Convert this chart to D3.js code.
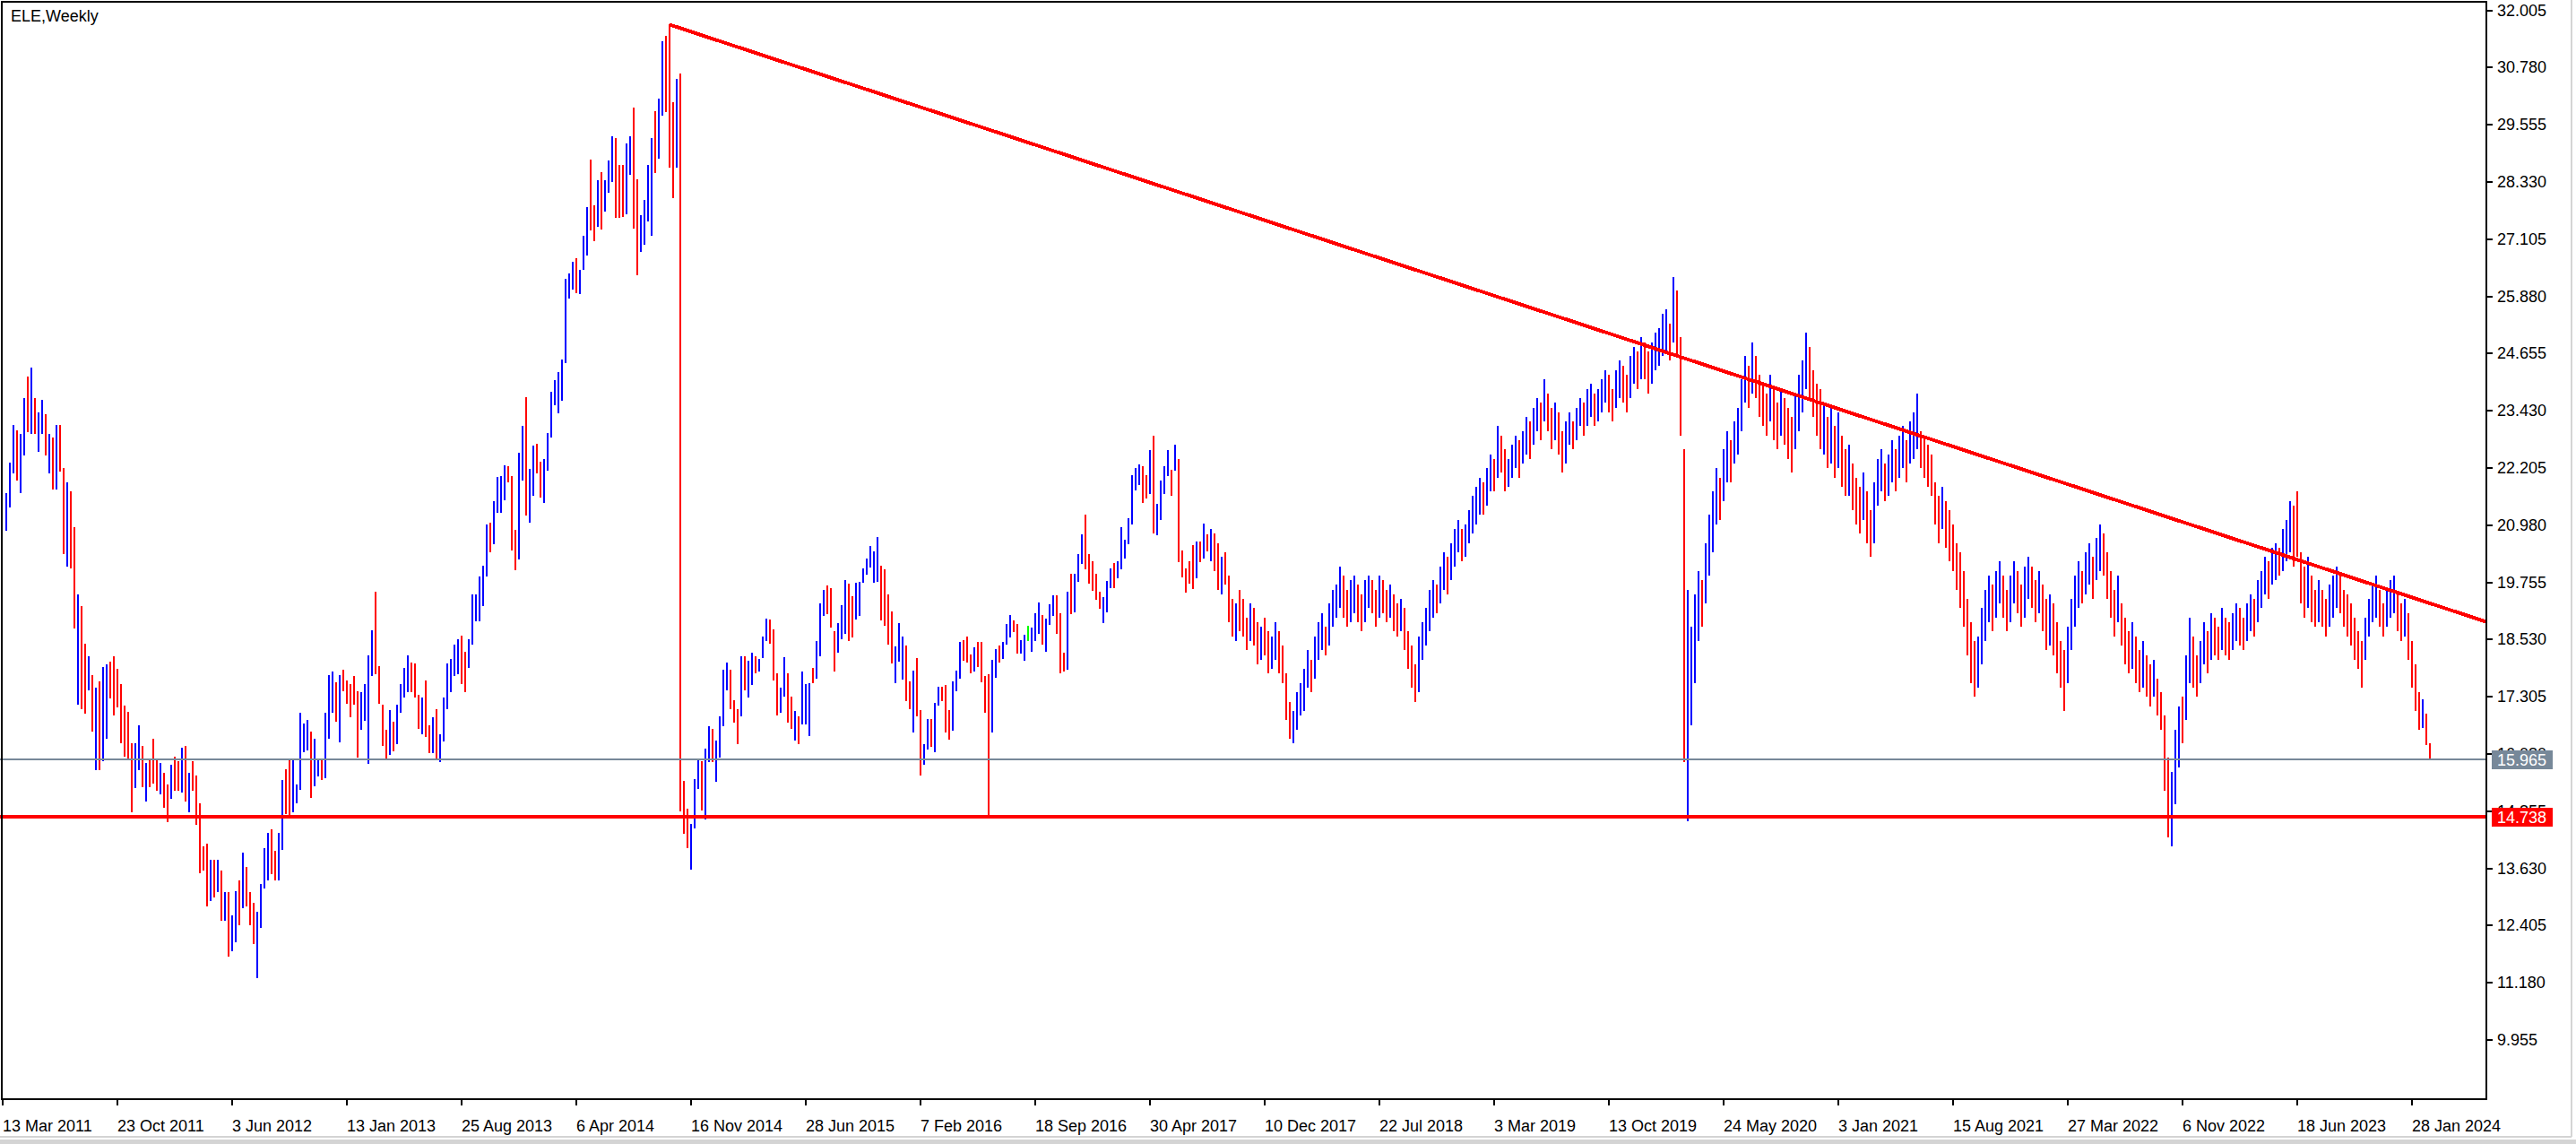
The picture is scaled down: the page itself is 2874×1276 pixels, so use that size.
<!DOCTYPE html>
<html>
<head>
<meta charset="utf-8">
<title>ELE,Weekly</title>
<style>
  body { margin: 0; background: #fff; }
  svg { display: block; }
  text { font-family: "Liberation Sans", Arial, sans-serif; font-size: 18px; fill: #000; }
</style>
</head>
<body>
<div id="chart"></div>
<script src="https://d3js.org/d3.v7.min.js"></script>
<script>
var symbol = "ELE,Weekly";
var firstWeek = "2011-03-20";   // date of the first bar in the arrays

// weekly highs / lows
var barHigh = [
 21.67,22.32,23.13,23.01,22.94,23.71,24.17,24.36,23.71,23.40,23.66,23.35,22.94,22.86,23.13,23.13,22.20,21.90,21.71,20.94,
 19.49,19.25,18.45,18.17,17.76,17.49,17.64,17.95,17.99,18.06,18.17,17.91,17.57,17.11,16.99,16.30,16.30,16.69,16.26,15.88,
 15.99,16.41,15.96,15.88,15.68,15.42,15.84,16.03,15.92,16.22,16.26,15.68,15.92,15.61,15.03,14.11,14.15,13.81,13.81,13.81,
 13.58,13.12,13.12,12.62,13.15,13.38,13.96,13.65,13.12,12.89,12.70,13.30,14.07,14.38,14.46,14.00,14.38,15.53,15.76,15.99,
 15.99,15.42,16.96,16.73,16.81,16.55,16.40,15.98,15.98,16.97,17.77,17.85,17.62,17.77,17.89,17.65,17.58,17.74,17.43,17.40,
 17.58,18.19,18.73,19.55,17.97,17.13,16.59,17.01,16.77,17.13,17.58,17.92,18.19,18.04,18.01,17.35,17.28,17.65,16.70,16.86,
 17.04,16.51,17.28,18.01,18.12,18.42,18.54,18.62,18.27,18.54,19.50,19.50,19.89,20.12,21.00,21.04,21.49,22.02,22.04,22.27,
 22.24,22.04,20.88,22.54,23.11,23.72,22.19,22.68,22.73,22.34,22.39,22.95,23.84,24.08,24.26,24.52,26.25,26.37,26.63,26.70,
 26.45,27.17,27.79,28.81,27.83,28.36,28.55,28.36,28.80,29.31,29.28,28.70,28.70,29.16,29.31,29.93,28.39,27.61,27.94,28.70,
 29.28,29.85,30.12,31.35,31.46,31.70,30.03,30.54,30.65,15.51,14.91,14.58,15.54,15.95,15.93,16.19,16.68,16.62,16.37,16.89,
 17.88,18.03,17.88,17.23,17.03,18.18,18.18,18.07,18.25,18.18,18.11,18.60,18.98,18.95,18.74,17.81,17.50,18.16,17.80,17.31,
 17.00,16.89,17.84,17.58,17.60,17.92,18.49,19.30,19.59,19.69,19.64,18.71,18.89,19.27,19.80,19.73,19.45,19.74,19.76,20.06,
 20.26,20.54,20.41,20.72,20.12,20.03,19.50,19.14,18.38,18.89,18.60,18.41,17.63,17.86,18.13,17.02,16.29,16.83,16.83,17.17,
 17.52,17.52,17.56,17.02,17.64,17.86,18.48,18.52,18.60,18.21,18.36,18.48,18.48,17.75,17.79,18.10,18.33,18.40,18.48,18.86,
 19.06,18.94,18.86,18.52,18.63,18.83,18.79,19.09,19.33,19.06,18.98,19.29,19.48,19.48,19.09,18.25,19.56,19.94,19.94,20.36,
 20.78,21.21,20.36,20.21,19.94,19.56,19.44,19.79,20.05,20.17,20.21,20.94,20.67,21.13,22.05,22.21,22.28,22.24,22.05,22.59,
 22.90,21.44,21.94,22.24,22.59,22.17,22.70,22.40,20.44,20.05,20.21,20.55,20.63,20.63,21.01,20.78,
 20.9,20.8,20.6,20.3,20.4,19.9,19.4,19.3,19.6,19.4,
 19.0,19.3,19.2,18.9,18.8,19.0,18.7,18.6,18.9,18.7,
 18.4,17.8,17.2,17.0,17.4,17.6,17.9,18.3,18.1,18.6,
 18.9,19.1,18.8,19.3,19.6,19.7,20.1,19.9,19.6,19.8,
 19.9,19.7,19.5,19.8,19.9,19.8,19.6,19.9,19.8,19.6,
 19.7,19.5,19.3,19.4,19.2,18.7,18.4,18.0,18.6,18.9,
 19.2,19.6,19.8,19.7,20.1,20.4,20.3,20.6,20.9,21.1,
 20.9,21.0,21.3,21.6,21.8,22.0,21.9,22.2,22.5,22.4,
 23.1,22.9,22.6,22.4,22.7,22.9,22.8,23.0,23.3,23.2,
 23.5,23.7,23.6,24.1,23.8,23.5,23.6,23.4,23.0,23.2,
 23.4,23.2,23.5,23.7,23.6,23.9,24.0,23.8,23.9,24.1,
 24.3,24.2,23.9,24.3,24.5,24.4,24.2,24.6,24.8,24.7,
 25.0,24.9,24.7,24.9,25.1,25.2,25.5,25.6,25.3,26.3,
 26.0,25.0,22.6,19.6,18.8,19.5,20.0,19.8,20.6,21.2,
 21.7,22.2,22.0,22.6,23.0,22.8,23.2,23.5,24.1,24.6,
 24.4,24.9,24.6,24.2,24.0,23.8,24.2,23.9,23.6,23.9,
 23.7,23.5,23.3,23.8,24.2,24.5,25.1,24.8,24.3,24.0,
 23.9,23.6,23.3,23.5,23.1,23.4,22.9,22.6,22.7,22.3,
 22.0,21.8,22.1,21.7,21.3,21.9,22.4,22.6,22.3,22.5,
 22.8,22.6,22.9,23.1,22.8,23.2,23.4,23.8,23.0,22.9,
 22.7,22.5,21.9,21.6,21.8,21.5,21.3,21.0,20.6,20.4,
 20.0,19.4,18.9,18.5,18.6,19.2,19.6,19.9,19.7,20.0,
 20.2,19.9,19.6,19.9,20.2,20.0,19.7,20.1,20.3,20.1,
 19.8,20.0,19.7,19.4,19.5,19.3,18.9,18.5,18.3,18.8,
 19.4,19.9,20.2,20.0,20.4,20.6,20.3,20.7,21.0,20.8,
 20.4,20.0,19.6,19.9,19.3,19.0,18.7,18.9,18.6,18.3,
 18.5,18.2,18.0,18.1,17.7,17.4,16.9,16.0,15.7,16.6,
 17.1,17.3,18.2,19.0,18.6,18.2,18.5,18.9,18.7,19.1,
 19.0,18.8,19.2,19.0,18.9,19.1,19.3,19.2,19.0,19.3,
 19.5,19.4,19.8,20.0,20.3,20.2,20.5,20.6,20.5,20.9,
 21.1,21.5,21.4,21.7,20.4,20.1,20.3,19.9,19.6,19.8,
 19.6,19.4,19.7,19.9,20.1,19.9,19.6,19.5,19.3,19.0,
 18.7,18.5,19.0,19.4,19.7,19.9,19.6,19.3,19.6,19.8,
 19.9,19.5,19.3,19.4,19.1,18.5,18.0,17.4,17.25,16.94,16.30
];
var barLow = [
 20.86,21.36,22.09,21.94,21.67,22.47,22.98,22.94,22.94,22.55,22.94,22.47,22.09,21.74,21.74,22.13,20.37,20.10,20.06,18.76,
 17.14,17.03,16.95,17.45,16.56,15.73,15.73,15.92,16.41,17.26,16.91,17.07,16.30,16.03,15.99,14.84,15.34,15.73,15.37,15.07,
 15.37,15.45,15.30,15.22,14.92,14.61,15.11,15.30,15.30,15.26,15.07,14.84,15.30,14.57,13.53,13.58,12.81,12.92,13.00,13.12,
 12.50,12.50,11.74,11.85,12.04,12.42,12.77,12.81,12.42,12.01,11.28,12.35,13.19,13.38,13.50,13.38,13.38,14.03,14.80,14.72,
 14.84,15.03,15.31,16.12,16.16,15.14,15.38,15.60,15.53,15.56,16.41,16.97,16.77,16.32,17.43,17.16,16.87,17.13,16.01,16.59,
 16.78,15.87,17.75,17.78,17.16,16.26,15.97,16.06,16.14,16.29,16.97,17.28,17.40,17.40,17.28,16.62,16.51,16.44,16.09,16.09,
 15.97,15.91,16.35,17.04,17.40,17.74,17.78,17.58,17.40,17.92,18.43,18.92,18.92,19.24,19.89,20.39,20.58,21.24,21.24,21.51,
 21.89,20.43,20.01,20.24,21.93,21.19,21.04,21.61,22.08,21.58,21.46,22.15,22.85,23.54,23.38,23.65,24.45,25.84,26.03,25.95,
 25.92,26.45,26.76,27.29,27.07,27.37,27.32,27.70,28.09,28.33,27.57,27.57,27.59,27.64,28.48,27.33,26.33,26.83,26.99,27.49,
 27.18,28.52,28.82,29.75,29.83,28.63,27.98,28.63,14.85,14.37,14.07,13.61,14.48,15.33,14.86,14.67,15.91,15.91,15.48,16.01,
 16.67,17.45,17.03,16.75,16.29,16.89,17.45,17.28,17.56,17.81,17.84,18.13,18.50,18.44,17.65,16.91,16.97,17.31,16.75,16.61,
 16.37,16.29,16.71,16.71,16.47,17.59,17.70,18.18,19.04,19.08,18.79,17.84,18.24,18.53,18.65,18.50,18.58,18.96,19.04,19.75,
 19.92,20.07,19.74,19.76,18.94,18.83,18.42,18.01,17.59,18.06,17.67,17.21,17.04,16.53,16.88,15.61,15.84,16.18,16.23,16.11,
 17.11,17.22,16.53,16.38,16.57,17.42,17.69,18.07,18.03,17.80,17.84,17.94,17.61,16.96,14.76,16.53,17.72,18.03,18.11,18.42,
 18.57,18.69,18.22,18.22,18.07,18.49,18.26,18.49,18.65,18.42,18.26,18.84,19.03,18.65,17.80,17.84,17.88,19.07,19.11,19.76,
 20.14,20.03,19.72,19.57,19.38,19.18,18.88,19.11,19.64,19.64,19.84,20.03,20.26,20.57,20.99,21.72,21.83,21.45,21.56,21.64,
 20.80,20.76,21.10,21.64,22.03,21.60,22.14,20.18,19.87,19.53,19.72,19.61,19.84,20.18,20.26,20.41,
 20.2,20.0,19.6,19.5,19.7,18.9,18.6,18.5,18.7,18.6,
 18.3,18.5,18.4,18.0,18.1,18.2,17.8,17.9,18.1,17.8,
 17.6,16.8,16.4,16.3,16.6,16.9,17.0,17.5,17.4,17.7,
 18.1,18.3,18.2,18.4,18.8,19.0,19.2,19.0,18.8,18.9,
 19.1,18.9,18.7,18.9,19.2,19.1,18.8,19.0,19.1,18.9,
 19.0,18.7,18.6,18.7,18.3,17.9,17.5,17.2,17.4,18.1,
 18.4,18.7,19.0,19.1,19.3,19.6,19.5,19.8,20.1,20.4,
 20.2,20.3,20.6,20.8,21.0,21.2,21.2,21.4,21.7,21.7,
 22.0,22.1,21.7,21.8,22.0,22.2,22.0,22.3,22.5,22.4,
 22.7,23.0,22.8,23.2,23.0,22.6,22.8,22.5,22.1,22.3,
 22.7,22.6,22.8,23.1,22.9,23.1,23.3,23.1,23.2,23.4,
 23.6,23.4,23.2,23.5,23.7,23.6,23.4,23.7,24.0,23.9,
 24.1,24.1,23.8,24.0,24.3,24.4,24.6,24.7,24.5,24.9,
 24.6,22.9,15.9,14.63,16.7,17.6,18.5,18.8,19.3,19.9,
 20.4,21.0,21.1,21.5,21.9,21.9,22.3,22.5,23.0,23.6,
 23.5,23.8,23.7,23.3,23.1,22.9,23.2,22.8,22.6,22.9,
 22.7,22.4,22.1,22.6,23.0,23.4,23.9,23.7,23.3,22.9,
 22.6,22.5,22.2,22.3,22.0,22.2,21.8,21.6,21.6,21.3,
 21.0,20.8,21.1,20.6,20.3,20.6,21.4,21.7,21.5,21.6,
 21.9,21.7,22.0,22.2,21.9,22.3,22.4,22.6,22.2,22.0,
 21.8,21.6,21.0,20.6,20.9,20.5,20.2,20.0,19.6,19.2,
 18.8,18.2,17.6,17.3,17.5,18.0,18.5,18.9,18.7,19.0,
 19.3,19.0,18.7,18.9,19.3,19.1,18.8,19.0,19.4,19.2,
 18.9,19.1,18.7,18.3,18.4,18.2,17.8,17.5,17.0,17.6,
 18.3,18.8,19.2,19.3,19.5,19.7,19.4,19.8,20.0,19.9,
 19.4,19.0,18.6,18.9,18.4,18.0,17.8,17.9,17.6,17.4,
 17.5,17.3,17.1,17.3,16.9,16.6,15.3,14.3,14.1,15.0,
 15.8,16.3,16.8,17.6,17.5,17.3,17.6,18.0,17.8,18.1,
 18.2,18.1,18.3,18.2,18.1,18.3,18.5,18.4,18.3,18.5,
 18.7,18.6,18.9,19.2,19.5,19.4,19.7,19.8,19.9,20.0,
 20.2,20.4,20.1,20.3,19.3,19.0,19.2,18.9,18.8,18.9,
 18.8,18.6,18.8,19.0,19.2,19.1,18.8,18.6,18.4,18.1,
 17.9,17.5,18.1,18.6,18.9,19.0,18.8,18.6,18.8,19.0,
 19.1,18.7,18.5,18.6,18.1,17.5,17.0,16.6,16.64,16.27,15.97
];
// u = closed up (blue), d = closed down (red), n = unchanged (green)
var barDir = [
 "uuuduududu","udududdudd","uddududuud","dddddduudu","dddudduddu","dudddddudu","duduududdd","uuuudduudd",
 "uuuuuduudu","uududddddu","uuuddddudu","uuuddduddu","duuuuuuddu","uuuuuduuuu","ddduuduudd","uuuuuuuuud",
 "uuudduduuu","ddduudduuu","uduudddudd","duuuduuduu","uuddduduud","uuuddduudd","uduuuduuud","dduuudduuu",
 "uuuudddduu","uddudduudu","uddduuuddd","udddduuduu","udduunuuud","uuuddduduu","uddddduuud","uuuuuuuddu",
 "duuuududdd","ddudud",
 "uddudddudd","duddudduud","ddduuuuudu","uuduuuuddu","udduuddudd","uddudddduu","uuuduuduuu","duuuuuduud",
 "udduuuduud","uududduddu","uduuduuduu","udduudduud","udduuuuudu","ddduuuuduu","uuduuduuuu","dudddduddu",
 "ddduuuuddd","dudududdud","ddudduuudu","uduuduuudd","dddduddddd","dddduuuudu","udduudduud","dudduddddu",
 "uuuduuduud","dddudddudd","uddudddduu","uduudduudu","ddudduuddu","uduuuduudu","uudddduddu","dduuuddddd",
 "dduuuudduu","udduddddudd"
].join("").split("");

var priceTicks = ["32.005","30.780","29.555","28.330","27.105","25.880","24.655","23.430","22.205","20.980",
                  "19.755","18.530","17.305","16.080","14.855","13.630","12.405","11.180","9.955"];
var dateTicks = ["13 Mar 2011","23 Oct 2011","3 Jun 2012","13 Jan 2013","25 Aug 2013","6 Apr 2014","16 Nov 2014",
                 "28 Jun 2015","7 Feb 2016","18 Sep 2016","30 Apr 2017","10 Dec 2017","22 Jul 2018","3 Mar 2019",
                 "13 Oct 2019","24 May 2020","3 Jan 2021","15 Aug 2021","27 Mar 2022","6 Nov 2022","18 Jun 2023","28 Jan 2024"];

var bidPrice = 15.965;
var supportPrice = 14.738;
var trendA = ["2014-10-05", 31.70];
var trendB = ["2022-09-11", 21.25];

var W = 2874, H = 1276;
var plotRight = 2774, plotBottom = 1226;
var parseIso = d3.utcParse("%Y-%m-%d"),
    parseTick = d3.utcParse("%d %b %Y");
var week = 7 * 864e5;
var t0 = parseTick(dateTicks[0]);

var x = d3.scaleUtc()
    .domain([t0, new Date(+t0 + 693 * week)])
    .range([3, 2775]);
var y = d3.scaleLinear()
    .domain([9.955, 32.005])
    .range([1159.9, 11.6]);

var svg = d3.select("#chart").append("svg")
    .attr("width", W).attr("height", H)
    .style("shape-rendering", "crispEdges");

// window frame (light grey)
svg.append("rect").attr("x", 0).attr("y", 1271).attr("width", W).attr("height", 5).attr("fill", "#d4d4d4");
svg.append("line").attr("x1", 0).attr("x2", 2869).attr("y1", 1267.5).attr("y2", 1267.5)
    .attr("stroke", "#d4d4d4").attr("stroke-width", 2);
svg.append("line").attr("x1", 2868.5).attr("x2", 2868.5).attr("y1", 0).attr("y2", 1268)
    .attr("stroke", "#d4d4d4").attr("stroke-width", 2);

svg.append("clipPath").attr("id", "plot")
  .append("rect").attr("x", 0).attr("y", 0).attr("width", plotRight).attr("height", plotBottom);

var plot = svg.append("g").attr("clip-path", "url(#plot)");

var n = Math.min(barHigh.length, barLow.length, barDir.length);
var bars = d3.range(n).map(function(i) {
  return { t: new Date(+parseIso(firstWeek) + i * week), high: barHigh[i], low: barLow[i], dir: barDir[i] };
});
var colour = { u: "#0000ff", d: "#ff0000", n: "#00ff00" };

plot.selectAll(".bar").data(bars).enter().append("line")
    .attr("class", "bar")
    .attr("x1", function(d) { return Math.round(x(d.t)); })
    .attr("x2", function(d) { return Math.round(x(d.t)); })
    .attr("y1", function(d) { return Math.round(y(d.high)); })
    .attr("y2", function(d) { return Math.round(y(d.low)); })
    .attr("stroke", function(d) { return colour[d.dir]; })
    .attr("stroke-width", 2);

// bid line and support line
plot.append("line").attr("x1", 0).attr("x2", plotRight)
    .attr("y1", Math.round(y(bidPrice))).attr("y2", Math.round(y(bidPrice)))
    .attr("stroke", "#778899").attr("stroke-width", 2);

plot.append("line").attr("x1", 0).attr("x2", plotRight)
    .attr("y1", y(supportPrice)).attr("y2", y(supportPrice))
    .attr("stroke", "#ff0000").attr("stroke-width", 4);

// trend line, extended to the right edge
var ax = x(parseIso(trendA[0])), ay = y(trendA[1]),
    bx = x(parseIso(trendB[0])), by = y(trendB[1]);
var slope = (by - ay) / (bx - ax);
plot.append("line")
    .attr("x1", ax).attr("y1", ay)
    .attr("x2", plotRight).attr("y2", ay + slope * (plotRight - ax))
    .attr("stroke", "#ff0000").attr("stroke-width", 4);

// frame
svg.append("path")
    .attr("d", "M1.5,1.5H" + (plotRight) + "V" + plotBottom + "H1.5Z")
    .attr("fill", "none").attr("stroke", "#000").attr("stroke-width", 2);

// price scale
var pt = svg.append("g");
priceTicks.forEach(function(s) {
  var yy = Math.round(y(+s));
  pt.append("line").attr("x1", plotRight).attr("x2", plotRight + 7).attr("y1", yy).attr("y2", yy)
      .attr("stroke", "#000").attr("stroke-width", 2);
  pt.append("text").attr("x", 2786).attr("y", yy).attr("dy", "0.35em").text(s);
});

// date scale
var dt = svg.append("g");
dateTicks.forEach(function(s) {
  var xx = Math.round(x(parseTick(s)));
  dt.append("line").attr("x1", xx).attr("x2", xx).attr("y1", plotBottom).attr("y2", plotBottom + 7)
      .attr("stroke", "#000").attr("stroke-width", 2);
  dt.append("text").attr("x", xx).attr("y", 1262).text(s);
});

// price labels of the two horizontal lines
function priceBox(p, fill) {
  var yy = Math.round(y(p));
  svg.append("rect").attr("x", 2780).attr("y", yy - 10).attr("width", 68).attr("height", 21).attr("fill", fill);
  svg.append("text").attr("x", 2786).attr("y", yy).attr("dy", "0.37em").style("fill", "#fff").text(d3.format(".3f")(p));
}
priceBox(bidPrice, "#778899");
priceBox(supportPrice, "#ff0000");

svg.append("text").attr("x", 12).attr("y", 24).text(symbol);
</script>
</body>
</html>
